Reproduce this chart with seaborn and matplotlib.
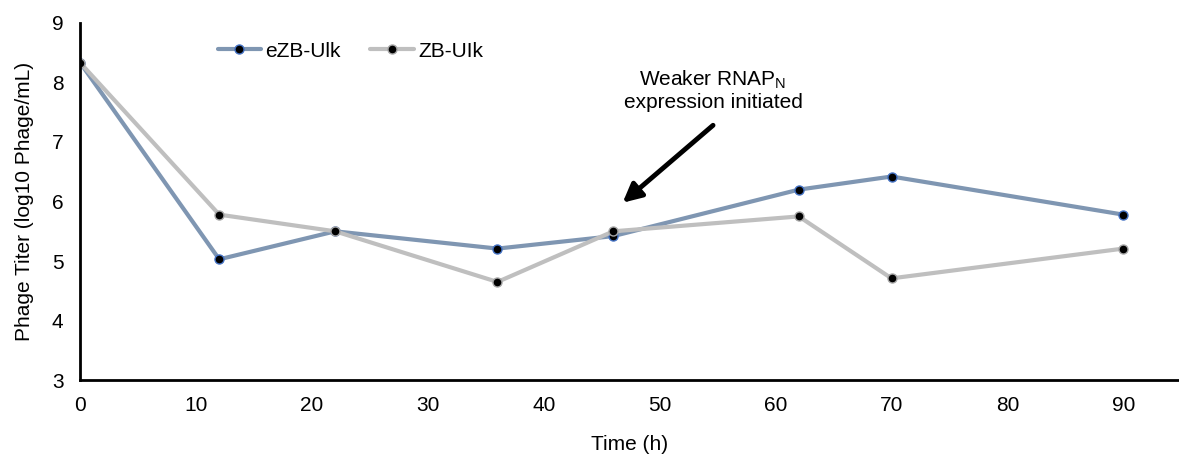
import numpy as np
import pandas as pd
import matplotlib
matplotlib.use("Agg")
import matplotlib.pyplot as plt
import seaborn as sns

# Data
time_h = [0, 12, 22, 36, 46, 62, 70, 90]
ezb_ulk = [8.33, 5.03, 5.50, 5.21, 5.42, 6.20, 6.42, 5.78]
zb_ulk = [8.33, 5.78, 5.50, 4.65, 5.50, 5.75, 4.71, 5.21]
series_names = ["eZB-Ulk", "ZB-UIk"]
line_colors = ["#7F96B2", "#BFBFBF"]
edge_colors = ["#4472C4", "#A6A6A6"]

df = pd.DataFrame({
    "Time (h)": time_h * 2,
    "titer": ezb_ulk + zb_ulk,
    "strain": [series_names[0]] * len(time_h) + [series_names[1]] * len(time_h),
})

sns.set_style("white")
plt.rcParams["font.family"] = ["Liberation Sans", "DejaVu Sans"]
plt.rcParams["text.color"] = "black"
plt.rcParams["axes.labelcolor"] = "black"
plt.rcParams["xtick.color"] = "black"
plt.rcParams["ytick.color"] = "black"

fig = plt.figure(figsize=(11.79, 4.57), dpi=100)
ax = fig.add_axes([0.068, 0.168, 0.932, 0.782])

# one call per strain so each gets its own marker edge
for name, lc, ec in zip(series_names, line_colors, edge_colors):
    sns.lineplot(data=df[df["strain"] == name], x="Time (h)", y="titer",
                 color=lc, linewidth=3, marker="o", markersize=6.5,
                 markerfacecolor="black", markeredgecolor=ec, markeredgewidth=1,
                 label=name, ax=ax)

ax.set_xlim(0, 94.8)
ax.set_ylim(3, 9)
ax.set_xticks(np.arange(0, 91, 10))
ax.set_yticks(np.arange(3, 10, 1))
ax.tick_params(axis="both", length=0, labelsize=15)
ax.tick_params(axis="x", pad=11)
ax.tick_params(axis="y", pad=12)
ax.set_xlabel("Time (h)", fontsize=15, labelpad=15)
ax.set_ylabel("Phage Titer (log10 Phage/mL)", fontsize=15, labelpad=13)

for side in ["top", "right"]:
    ax.spines[side].set_visible(False)
for side in ["left", "bottom"]:
    ax.spines[side].set_color("black")
    ax.spines[side].set_linewidth(2)

ax.legend(loc="upper left", bbox_to_anchor=(0.108, 1.0), ncol=2, frameon=False,
          fontsize=15, handlelength=2.1, handletextpad=0.2, columnspacing=1.4)

ax.text(54.6, 7.87, "Weaker RNAP$_\\mathregular{N}$\nexpression initiated",
        ha="center", va="center", fontsize=15, linespacing=1.15)
ax.annotate("", xy=(46.8, 5.98), xytext=(54.6, 7.28),
            arrowprops=dict(arrowstyle="-|>", color="black", lw=3.5,
                            mutation_scale=28, shrinkA=0, shrinkB=0))

fig.savefig("out.png", dpi=100)
